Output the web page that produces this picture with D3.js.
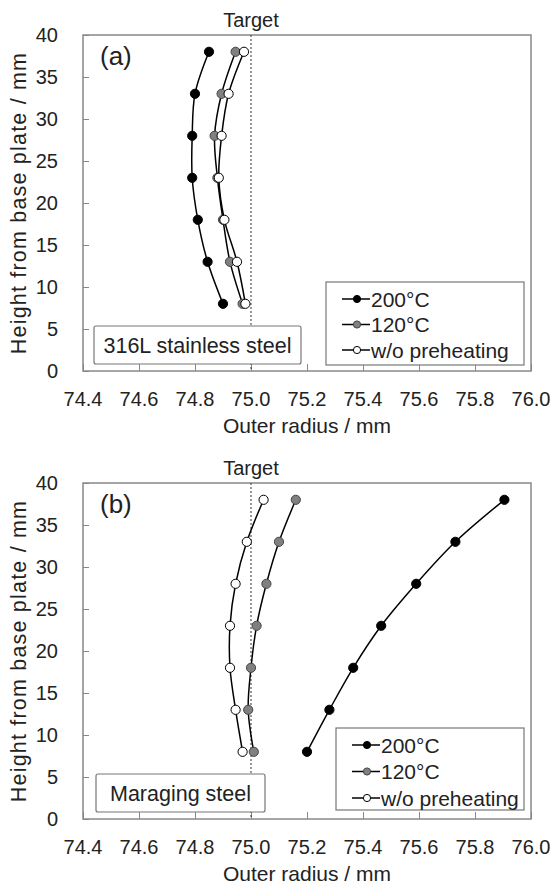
<!DOCTYPE html>
<html>
<head>
<meta charset="utf-8">
<script src="https://cdn.jsdelivr.net/npm/d3@7"></script>
<style>
body { margin: 0; background: #fff; }
text { font-family: "Liberation Sans", Arial, sans-serif; fill: #222; }
</style>
</head>
<body>
<div id="chart"></div>
<script>
// data
var heights = [8, 13, 18, 23, 28, 33, 38];
var xTicks = [74.4, 74.6, 74.8, 75.0, 75.2, 75.4, 75.6, 75.8, 76.0];
var yTicks = [0, 5, 10, 15, 20, 25, 30, 35, 40];
var seriesNames = ["200°C", "120°C", "w/o preheating"];
var targetRadius = 75.0;

// (a) 316L stainless steel
var a200 = [74.90, 74.845, 74.81, 74.79, 74.79, 74.80, 74.85];
var a120 = [74.97, 74.925, 74.90, 74.88, 74.87, 74.895, 74.945];
var aNone = [74.98, 74.95, 74.905, 74.885, 74.895, 74.92, 74.975];

// (b) Maraging steel
var b200 = [75.20, 75.28, 75.365, 75.465, 75.59, 75.73, 75.905];
var b120 = [75.01, 74.99, 75.00, 75.02, 75.055, 75.10, 75.16];
var bNone = [74.97, 74.945, 74.925, 74.925, 74.945, 74.985, 75.045];

var fills = ["#000", "#808080", "#fff"];
var strokes = ["#000", "#444", "#000"];

var W = 550, H = 884;
var svg = d3.select("#chart").append("svg")
    .attr("width", W)
    .attr("height", H);

function drawPanel(cfg) {
  var left = 83, right = 531, top = cfg.top, bottom = cfg.top + 336;

  var x = d3.scaleLinear().domain([74.4, 76.0]).range([left, right]);
  var y = d3.scaleLinear().domain([0, 40]).range([bottom, top]);

  var g = svg.append("g");

  // inward ticks
  var xAxis = d3.axisTop(x).tickValues(xTicks).tickSize(7).tickFormat("");
  var yAxis = d3.axisRight(y).tickValues(yTicks).tickSize(6).tickFormat("");

  g.append("g")
      .attr("transform", "translate(0," + bottom + ")")
      .call(xAxis)
      .call(function(s) { s.select(".domain").remove(); s.selectAll("line").attr("stroke", "#888"); });
  g.append("g")
      .attr("transform", "translate(" + left + ",0)")
      .call(yAxis)
      .call(function(s) { s.select(".domain").remove(); s.selectAll("line").attr("stroke", "#888"); });

  // plot frame
  g.append("rect")
      .attr("x", left).attr("y", top)
      .attr("width", right - left).attr("height", bottom - top)
      .attr("fill", "none")
      .attr("stroke", "#888")
      .attr("stroke-width", 1.5);

  // tick labels
  g.selectAll(".xl").data(xTicks).enter().append("text")
      .attr("x", function(d) { return x(d); })
      .attr("y", bottom + 35)
      .attr("text-anchor", "middle")
      .style("font-size", "20px")
      .text(function(d) { return d.toFixed(1); });
  g.selectAll(".yl").data(yTicks).enter().append("text")
      .attr("x", 58)
      .attr("y", function(d) { return y(d); })
      .attr("dy", "0.35em")
      .attr("text-anchor", "end")
      .style("font-size", "20px")
      .text(function(d) { return d; });

  // axis titles
  g.append("text")
      .attr("x", (left + right) / 2)
      .attr("y", bottom + 62)
      .attr("text-anchor", "middle")
      .style("font-size", "21px")
      .text("Outer radius / mm");
  g.append("text")
      .attr("transform", "translate(26," + ((top + bottom) / 2) + ") rotate(-90)")
      .attr("text-anchor", "middle")
      .style("font-size", "21.5px")
      .style("letter-spacing", "1.2px")
      .text("Height from base plate / mm");

  // target line
  g.append("line")
      .attr("x1", x(targetRadius)).attr("x2", x(targetRadius))
      .attr("y1", top).attr("y2", bottom)
      .attr("stroke", "#333")
      .attr("stroke-width", 1)
      .attr("stroke-dasharray", "2,2");
  g.append("text")
      .attr("x", x(targetRadius))
      .attr("y", top - 8)
      .attr("text-anchor", "middle")
      .style("font-size", "20px")
      .text("Target");

  // panel label
  g.append("text")
      .attr("x", 100)
      .attr("y", top + 30)
      .style("font-size", "26px")
      .text(cfg.label);

  // series
  var line = d3.line()
      .x(function(d) { return x(d[0]); })
      .y(function(d) { return y(d[1]); })
      .curve(d3.curveCatmullRom.alpha(0.5));

  cfg.series.forEach(function(vals, i) {
    var pts = vals.map(function(v, j) { return [v, heights[j]]; });
    g.append("path")
        .attr("d", line(pts))
        .attr("fill", "none")
        .attr("stroke", "#000")
        .attr("stroke-width", 1.5);
    g.selectAll(".m" + i).data(pts).enter().append("circle")
        .attr("cx", function(d) { return x(d[0]); })
        .attr("cy", function(d) { return y(d[1]); })
        .attr("r", 4.6)
        .attr("fill", fills[i])
        .attr("stroke", strokes[i])
        .attr("stroke-width", 1);
  });

  // material box
  var ib = cfg.inset;
  g.append("rect")
      .attr("x", ib.x).attr("y", top + ib.dy)
      .attr("width", ib.w).attr("height", ib.h)
      .attr("rx", 2)
      .attr("fill", "#fff")
      .attr("stroke", "#777")
      .attr("stroke-width", 1.2);
  g.append("text")
      .attr("x", ib.x + ib.w / 2)
      .attr("y", top + ib.dy + ib.h / 2)
      .attr("dy", "0.36em")
      .attr("text-anchor", "middle")
      .style("font-size", "21.5px")
      .text(ib.text);

  // legend
  var lb = cfg.legend;
  g.append("rect")
      .attr("x", lb.x).attr("y", top + lb.dy)
      .attr("width", lb.w).attr("height", lb.h)
      .attr("fill", "#fff")
      .attr("stroke", "#777")
      .attr("stroke-width", 1.2);
  var items = g.selectAll(".leg").data(seriesNames).enter().append("g")
      .attr("transform", function(d, i) {
        return "translate(" + lb.x + "," + (top + lb.dy + 17 + i * lb.step) + ")";
      });
  items.append("line")
      .attr("x1", 16).attr("x2", 44)
      .attr("stroke", "#000").attr("stroke-width", 1.5);
  items.append("circle")
      .attr("cx", 31).attr("r", 3.6)
      .attr("fill", function(d, i) { return fills[i]; })
      .attr("stroke", function(d, i) { return strokes[i]; });
  items.append("text")
      .attr("x", 45)
      .attr("dy", "0.36em")
      .style("font-size", "21px")
      .text(function(d) { return d; });
}

drawPanel({
  top: 35, label: "(a)",
  series: [a200, a120, aNone],
  inset: { x: 94, dy: 291, w: 207, h: 38, text: "316L stainless steel" },
  legend: { x: 326, dy: 247, w: 198, h: 83, step: 25.5 }
});

drawPanel({
  top: 483, label: "(b)",
  series: [b200, b120, bNone],
  inset: { x: 96, dy: 291, w: 169, h: 38, text: "Maraging steel" },
  legend: { x: 336, dy: 245, w: 188, h: 82, step: 26.5 }
});
</script>
</body>
</html>
